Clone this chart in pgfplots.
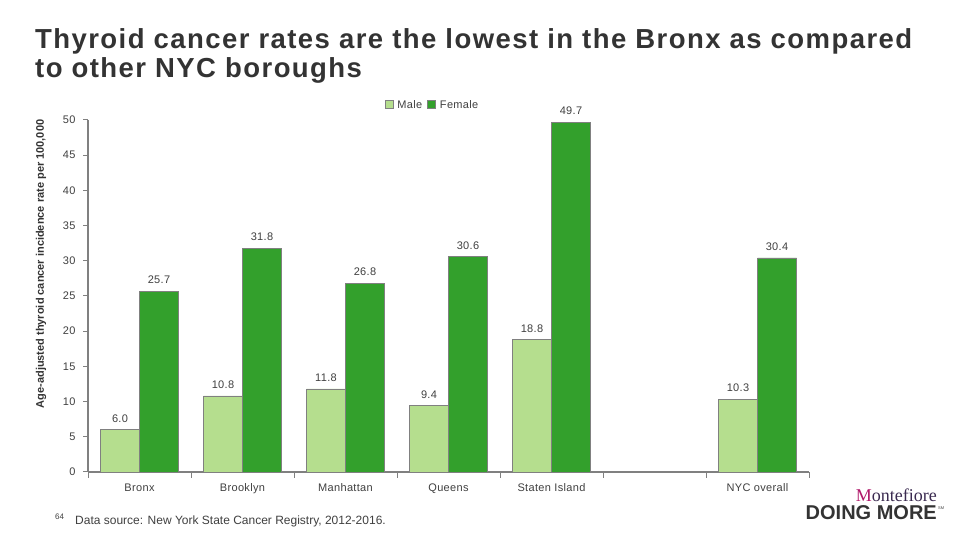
\documentclass[border=0pt]{standalone}
\usepackage{pgfplots}
\pgfplotsset{compat=1.18}
\usepackage{fontspec}
\setmainfont{Liberation Sans}
\newfontfamily\seriffont{Liberation Serif}
\newfontfamily\titlefont[LetterSpace=5.2]{Liberation Sans}
\newfontfamily\smallfont[LetterSpace=3]{Liberation Sans}
\definecolor{male}{HTML}{B5DE8E}
\definecolor{female}{HTML}{33A02C}
\definecolor{txt}{HTML}{404040}
\definecolor{axgray}{HTML}{808080}
\definecolor{titlec}{HTML}{333333}
\definecolor{montmag}{HTML}{B0186A}
\definecolor{montdark}{HTML}{3A2A50}

\begin{document}
\begin{tikzpicture}[x=1pt,y=1pt]
\path[use as bounding box, fill=white] (0,0) rectangle (960,540);

% title
\node[anchor=base west, inner sep=0pt, text=titlec, font=\titlefont\fontsize{27.5}{30}\selectfont\bfseries] at (35,491) {Thyroid cancer rates are the lowest in the Bronx as compared};
\node[anchor=base west, inner sep=0pt, text=titlec, font=\titlefont\fontsize{27.5}{30}\selectfont\bfseries] at (35,462) {to other NYC boroughs};

\begin{axis}[
  at={(88pt,68pt)}, anchor=south west,
  scale only axis, width=721pt, height=352pt,
  xmin=-0.5, xmax=6.5, ymin=0, ymax=50,
  ybar=0pt, bar width=39pt,
  axis lines=left,
  axis line style={-, draw=axgray, line width=1.2pt},
  tick style={draw=axgray, line width=1pt},
  tick align=outside,
  major tick length=5pt, minor tick length=6pt,
  ytick={0,5,...,50},
  xtick={0,1,2,3,4,6},
  xticklabels={Bronx,Brooklyn,Manhattan,Queens,Staten Island,NYC overall},
  major x tick style={draw=none},
  minor xtick={-0.5,0.5,...,6.5},
  ticklabel style={font=\smallfont\fontsize{11}{13}\selectfont, text=txt},
  yticklabel style={xshift=-4pt},
  xticklabel style={yshift=-3pt},
  /pgf/number format/assume math mode=true,
  nodes near coords,
  nodes near coords style={font=\smallfont\fontsize{11}{13}\selectfont, text=txt, inner sep=0pt, yshift=7pt,
    /pgf/number format/.cd, fixed, fixed zerofill, precision=1},
  legend style={at={(0.411,1.043)}, anchor=west, draw=none, fill=none,
    font=\smallfont\fontsize{11}{13}\selectfont, text=txt, inner sep=0pt,
    /tikz/every odd column/.append style={column sep=2pt},
    /tikz/every even column/.append style={column sep=3pt}},
  legend columns=2,
  legend image code/.code={\draw[#1] (0pt,-4pt) rectangle (8pt,4pt);},
]
\addplot[fill=male, draw=axgray, line width=0.8pt] coordinates {(0,6.0) (1,10.8) (2,11.8) (3,9.4) (4,18.8) (6,10.3)};
\addlegendentry{Male}
\addplot[fill=female, draw=axgray, line width=0.8pt] coordinates {(0,25.7) (1,31.8) (2,26.8) (3,30.6) (4,49.7) (6,30.4)};
\addlegendentry{Female}
\end{axis}

% y label
\node[rotate=90, text=titlec, font=\fontsize{11}{13}\selectfont\bfseries] at (41,276) {Age-adjusted thyroid cancer incidence rate per 100,000};

% footer
\node[anchor=base west, inner sep=0pt, text=txt, font=\fontsize{8}{9}\selectfont] at (55,20) {64};
\node[anchor=base west, inner sep=0pt, text=txt, font=\fontsize{12}{14}\selectfont] at (75,15) {Data source: New York State Cancer Registry, 2012-2016.};

% logo
\node[anchor=base east, inner sep=0pt, font=\seriffont\fontsize{18}{20}\selectfont] at (937,38) {\textcolor{montmag}{M}\textcolor{montdark}{ontefiore}};
\node[anchor=base east, inner sep=0pt, text=titlec, font=\fontsize{20}{22}\selectfont\bfseries] at (937,20) {DOING MORE};
\node[anchor=base west, inner sep=0pt, text=txt, font=\fontsize{4}{5}\selectfont] at (938,30) {SM};
\end{tikzpicture}
\end{document}
